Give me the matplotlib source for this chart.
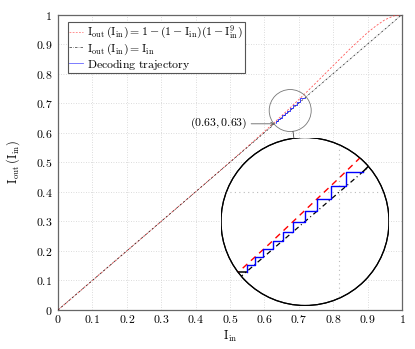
import numpy as np
import matplotlib
matplotlib.use("Agg")
import matplotlib.pyplot as plt
from matplotlib.patches import Circle, Ellipse
from matplotlib.lines import Line2D
from matplotlib.ticker import FuncFormatter

plt.rcParams['mathtext.fontset'] = 'cm'
plt.rcParams['font.family'] = ['DejaVu Serif']

# EXIT curve values I_out(I_in)
curve_x = [0.0, 0.1, 0.2, 0.3, 0.4, 0.5, 0.55, 0.6, 0.625, 0.65, 0.675, 0.7, 0.725,
           0.75, 0.8, 0.85, 0.9, 0.925, 0.95, 0.975, 1.0]
curve_y = [0.0, 0.1, 0.2, 0.3, 0.4, 0.501, 0.552, 0.604, 0.6305, 0.657, 0.6845, 0.712, 0.7402,
           0.769, 0.827, 0.885, 0.939, 0.962, 0.982, 0.995, 1.0]
# identity line
ident_x = [0.0, 1.0]
ident_y = [0.0, 1.0]
# decoding trajectory: successive mutual informations
traj_iter = [0.6326, 0.6384, 0.6447, 0.6514, 0.6587, 0.6662, 0.6747, 0.684, 0.6939, 0.7048, 0.7172]
traj_lead_x = [0.627, 0.6326]
traj_lead_y = [0.632, 0.632]
traj_tail_x = [0.7172, 0.7215]
traj_tail_y = [0.7172, 0.7222]

ticks = [0, 0.1, 0.2, 0.3, 0.4, 0.5, 0.6, 0.7, 0.8, 0.9, 1.0]
annot_point = (0.63, 0.63)
annot_text = r'$(0.63, 0.63)$'

# staircase vertices from iterates
sx, sy = [], []
for k in range(len(traj_iter) - 1):
    sx += [traj_iter[k], traj_iter[k], traj_iter[k + 1]]
    sy += [traj_iter[k] if k > 0 else traj_lead_y[-1], traj_iter[k + 1], traj_iter[k + 1]]

W, H = 415, 349
fig = plt.figure(figsize=(W / 100, H / 100), dpi=100)
ax_l, ax_t, ax_w, ax_h = 58, 14.5, 344, 295.5
ax = fig.add_axes([ax_l / W, 1 - (ax_t + ax_h) / H, ax_w / W, ax_h / H])

ax.plot(curve_x, curve_y, color='#ff3030', lw=0.6, ls=(0, (2.5, 2)), alpha=0.8, zorder=3)
ax.plot(ident_x, ident_y, color='#222222', lw=0.5, ls=(0, (3, 1.5, 0.6, 1.5)), zorder=3)
ax.plot(sx, sy, color='blue', lw=0.5, zorder=4)

ax.set_xlim(0, 1)
ax.set_ylim(0, 1)
ax.set_xticks(ticks)
ax.set_yticks(ticks)
fmt = FuncFormatter(lambda v, p: r'$%g$' % round(v, 1))
ax.xaxis.set_major_formatter(fmt)
ax.yaxis.set_major_formatter(fmt)
ax.tick_params(length=0, labelsize=8.5)
ax.tick_params(axis='x', pad=2)
ax.tick_params(axis='y', pad=4)
ax.grid(True, color='#d0d0d0', ls=(0, (1, 2)), lw=0.6)
for s in ax.spines.values():
    s.set_color('#666666')
    s.set_linewidth(0.9)
ax.set_xlabel(r'$\mathrm{I}_{\mathrm{in}}$', fontsize=9, labelpad=2)
ax.set_ylabel(r'$\mathrm{I}_{\mathrm{out}}\,(\mathrm{I}_{\mathrm{in}})$', fontsize=9, labelpad=10)

handles = [
    Line2D([], [], color='red', lw=0.6, ls=(0, (2.2, 1.6)), alpha=0.5),
    Line2D([], [], color='#555555', lw=0.6, ls=(0, (3, 1.5, 0.6, 1.5))),
    Line2D([], [], color='blue', lw=0.6, alpha=0.6),
]
labels = [
    r'$\mathrm{I}_{\mathrm{out}}\,(\mathrm{I}_{\mathrm{in}}) = 1-(1-\mathrm{I}_{\mathrm{in}})(1-\mathrm{I}_{\mathrm{in}}^{9})$',
    r'$\mathrm{I}_{\mathrm{out}}\,(\mathrm{I}_{\mathrm{in}}) = \mathrm{I}_{\mathrm{in}}$',
    r'$\mathrm{Decoding\ trajectory}$',
]
leg = ax.legend(handles, labels, loc='upper left', bbox_to_anchor=(9.5 / ax_w, 1 - 7.8 / ax_h),
                borderaxespad=0, fontsize=8.5, handlelength=1.2, handletextpad=0.3,
                labelspacing=0.0, borderpad=0.15, fancybox=False, framealpha=1)
leg.get_frame().set_edgecolor('#555555')
leg.get_frame().set_linewidth(0.8)

# small lens on main axes
lens_c = (0.675, 0.675)
lens_r_px = 21
mag = 4
ax.add_patch(Ellipse(lens_c, 2 * lens_r_px / ax_w, 2 * lens_r_px / ax_h, fill=False,
                     ec='#777777', lw=0.6, zorder=5))

ax.annotate(annot_text, xy=annot_point, xytext=(-20, 0), textcoords='offset points',
            fontsize=8.5, ha='right', va='center',
            arrowprops=dict(arrowstyle='->', color='#444444', lw=0.5,
                            shrinkA=1, shrinkB=0, mutation_scale=6))

# big magnified lens
big_c_px = (305, 221.5)
big_r = lens_r_px * mag
axin = fig.add_axes([(big_c_px[0] - big_r) / W, 1 - (big_c_px[1] + big_r) / H,
                     2 * big_r / W, 2 * big_r / H])
axin.set_xlim(lens_c[0] - lens_r_px / ax_w, lens_c[0] + lens_r_px / ax_w)
axin.set_ylim(lens_c[1] - lens_r_px / ax_h, lens_c[1] + lens_r_px / ax_h)
axin.axis('off')
circ = Circle((0.5, 0.5), 0.5, transform=axin.transAxes, fc='white', ec='black', lw=0.9, zorder=0)
axin.add_patch(circ)
arts = []
arts.append(axin.axvline(0.7, color='#bbbbbb', ls=(0, (1, 3)), lw=0.8, zorder=1))
arts.append(axin.axhline(0.7, color='#bbbbbb', ls=(0, (1, 3)), lw=0.8, zorder=1))
arts += axin.plot(curve_x, curve_y, color='red', lw=1.0, ls=(0, (4.5, 3.5)), zorder=3)
arts += axin.plot(ident_x, ident_y, color='black', lw=0.9, ls=(0, (4, 2.5, 0.8, 2.5)), zorder=3)
arts += axin.plot(traj_lead_x, traj_lead_y, color='black', lw=1.1, zorder=4)
arts += axin.plot(traj_tail_x, traj_tail_y, color='black', lw=1.1, zorder=4)
arts += axin.plot(sx, sy, color='blue', lw=1.0, zorder=5)
ring = Circle((0.5, 0.5), 0.5, transform=axin.transAxes, fill=False, ec='black', lw=0.8, zorder=6)
axin.add_patch(ring)
for a in arts:
    a.set_clip_path(circ)

# connector between lenses
sc = (58 + lens_c[0] * ax_w, ax_t + (1 - lens_c[1]) * ax_h)
d = np.array([big_c_px[0] - sc[0], big_c_px[1] - sc[1]])
d = d / np.linalg.norm(d)
p1 = (sc[0] + lens_r_px * d[0], sc[1] + lens_r_px * d[1])
p2 = (big_c_px[0] - big_r * d[0], big_c_px[1] - big_r * d[1])
fig.add_artist(Line2D([p1[0] / W, p2[0] / W], [1 - p1[1] / H, 1 - p2[1] / H],
                      transform=fig.transFigure, color='#444444', lw=0.6))

fig.savefig('out.png', dpi=100)
